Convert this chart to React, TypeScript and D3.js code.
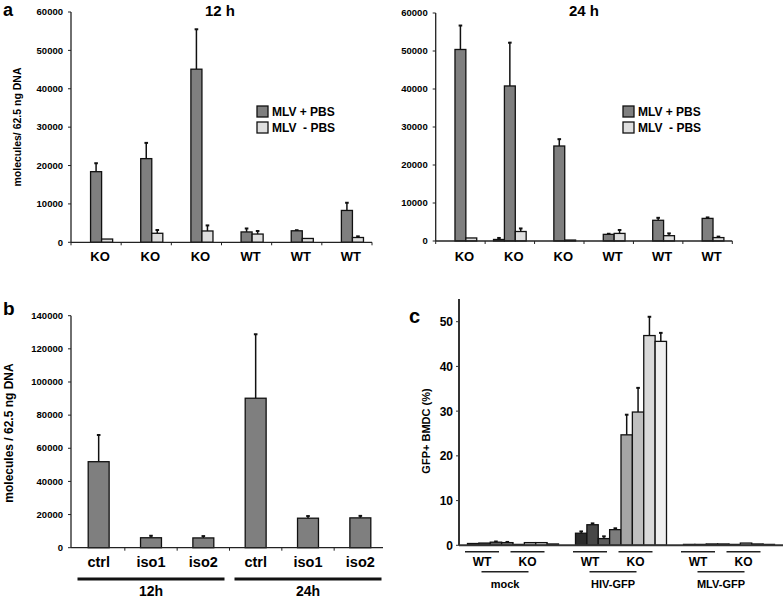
import React from 'react';
import * as d3 from 'd3';

// ---------- Panel a data ----------
const groupsA = ['KO', 'KO', 'KO', 'WT', 'WT', 'WT'];
const seriesA = ['MLV + PBS', 'MLV  - PBS'];
const ticksA = [0, 10000, 20000, 30000, 40000, 50000, 60000];
const a12Base = [0, 0, 0, 0, 0, 0];
const a12BaseErr = [0, 0, 0, 0, 0, 0];
const a12Plus = [18400, 21800, 45100, 2700, 3000, 8300];
const a12PlusErr = [2200, 4100, 10400, 900, 150, 2000];
const a12Minus = [850, 2350, 2950, 2150, 1000, 1250];
const a12MinusErr = [0, 850, 1450, 800, 0, 300];
const a24Base = [0, 400, 0, 0, 0, 0];
const a24BaseErr = [0, 400, 0, 0, 0, 0];
const a24Plus = [50400, 40800, 25000, 1750, 5450, 5950];
const a24PlusErr = [6300, 11400, 1800, 150, 650, 250];
const a24Minus = [800, 2500, 250, 2000, 1400, 900];
const a24MinusErr = [0, 800, 0, 900, 600, 250];

// ---------- Panel b data ----------
const catsB = ['ctrl', 'iso1', 'iso2', 'ctrl', 'iso1', 'iso2'];
const timesB = ['12h', '24h'];
const ticksB = [0, 20000, 40000, 60000, 80000, 100000, 120000, 140000];
const valsB = [51900, 6000, 5900, 90200, 17800, 18000];
const errB = [16100, 1200, 1100, 38600, 1300, 1200];

// ---------- Panel c data ----------
const groupsC = ['mock', 'HIV-GFP', 'MLV-GFP'];
const genoC = ['WT', 'KO'];
const ticksC = [0, 10, 20, 30, 40, 50];
const mockC = [0.4, 0.5, 0.7, 0.6, 0.2, 0.6, 0.6, 0.3];
const mockErrC = [0.1, 0.1, 0.15, 0.15, 0.05, 0.1, 0.1, 0.05];
const hivC = [2.7, 4.6, 1.5, 3.5, 24.7, 29.8, 46.9, 45.6];
const hivErrC = [0.4, 0.3, 0.5, 0.3, 4.5, 5.4, 4.2, 1.9];
const mlvC = [0.2, 0.2, 0.3, 0.3, 0.2, 0.5, 0.3, 0.2];
const mlvErrC = [0.05, 0.05, 0.05, 0.05, 0.05, 0.1, 0.05, 0.05];

const FONT = '"Liberation Sans", Arial, sans-serif';
const DARK = '#7f7f7f';
const LIGHT = '#dedede';
const colorsC = ['#2b2b2b', '#474747', '#5c5c5c', '#7c7c7c', '#a6a6a6', '#bfbfbf', '#d9d9d9', '#efefef'];

function ErrBar({ cx, yTop, yErr }: { cx: number; yTop: number; yErr: number }) {
  if (Math.abs(yTop - yErr) < 0.5) return null;
  return (
    <g stroke="#111" strokeWidth={1.5}>
      <line x1={cx} x2={cx} y1={yTop} y2={yErr} />
      <line x1={cx - 1.8} x2={cx + 1.8} y1={yErr} y2={yErr} strokeWidth={2} />
    </g>
  );
}

function PanelA(props: {
  x0: number; x1: number; y0: number; y1: number; title: string; titleX: number; legendX: number;
  base: number[]; baseErr: number[]; plus: number[]; plusErr: number[]; minus: number[]; minusErr: number[];
}) {
  const { x0, x1, y0, y1 } = props;
  const y = d3.scaleLinear().domain([0, 60000]).range([y0, y1]);
  const idx = groupsA.map((_, i) => String(i));
  const x = d3.scaleBand().domain(idx).range([x0, x1]);
  const bw = x.bandwidth();
  const sub = d3.scaleBand().domain(['base', 'plus', 'minus']).range([bw * 0.17, bw * 0.83]);
  const sw = sub.bandwidth();
  const series = [
    { key: 'base', v: props.base, e: props.baseErr, fill: DARK },
    { key: 'plus', v: props.plus, e: props.plusErr, fill: DARK },
    { key: 'minus', v: props.minus, e: props.minusErr, fill: LIGHT },
  ];
  const boundaries = d3.range(groupsA.length + 1).map((i) => x0 + i * bw);
  return (
    <g>
      <text x={props.titleX} y={16} textAnchor="middle" fontSize={15} fontWeight="bold" fontFamily={FONT}>{props.title}</text>
      {series.map((s) =>
        idx.map((g, i) => {
          const bx = (x(g) as number) + (sub(s.key) as number);
          const top = y(s.v[i]);
          return (
            <g key={s.key + i}>
              <ErrBar cx={bx + sw / 2} yTop={top} yErr={y(s.v[i] + s.e[i])} />
              <rect x={bx} y={top} width={sw} height={Math.max(0, y0 - top)} fill={s.fill} stroke="#111" strokeWidth={1.3} />
            </g>
          );
        })
      )}
      <line x1={x0} x2={x0} y1={y0} y2={y1} stroke="#222" strokeWidth={1.3} />
      <line x1={x0} x2={x1} y1={y0} y2={y0} stroke="#222" strokeWidth={1.3} />
      {ticksA.map((t) => (
        <g key={t}>
          <line x1={x0 - 3} x2={x0} y1={y(t)} y2={y(t)} stroke="#222" strokeWidth={1} />
          <text x={x0 - 8} y={y(t) + 3.2} textAnchor="end" fontSize={9.5} fontWeight="bold" fontFamily={FONT}>{t}</text>
        </g>
      ))}
      {boundaries.map((b, i) => (
        <line key={i} x1={b} x2={b} y1={y0} y2={y0 + 3} stroke="#222" strokeWidth={1} />
      ))}
      {groupsA.map((g, i) => (
        <text key={i} x={(x(String(i)) as number) + bw / 2 + 4} y={261} textAnchor="middle" fontSize={13} fontWeight="bold" fontFamily={FONT}>{g}</text>
      ))}
      {seriesA.map((s, i) => (
        <g key={s}>
          <rect x={props.legendX} y={106 + i * 16} width={11} height={11} fill={i === 0 ? DARK : LIGHT} stroke="#111" strokeWidth={1.3} />
          <text x={props.legendX + 15} y={116 + i * 16} fontSize={12} fontWeight="bold" fontFamily={FONT} style={{ whiteSpace: 'pre' }}>{s}</text>
        </g>
      ))}
    </g>
  );
}

function PanelB() {
  const x0 = 71, x1 = 383, y0 = 547.7, y1 = 315.7;
  const y = d3.scaleLinear().domain([0, 140000]).range([y0, y1]);
  const idx = catsB.map((_, i) => String(i));
  const x = d3.scaleBand().domain(idx).range([72.5, 386.5]);
  const bw = x.bandwidth();
  const barW = bw * 0.4;
  return (
    <g>
      {valsB.map((v, i) => {
        const cx = (x(String(i)) as number) + bw / 2;
        const top = y(v);
        return (
          <g key={i}>
            <ErrBar cx={cx} yTop={top} yErr={y(v + errB[i])} />
            <rect x={cx - barW / 2} y={top} width={barW} height={y0 - top} fill={DARK} stroke="#111" strokeWidth={1.3} />
          </g>
        );
      })}
      <line x1={x0} x2={x0} y1={y0} y2={y1} stroke="#222" strokeWidth={1.3} />
      <line x1={x0} x2={x1} y1={y0} y2={y0} stroke="#222" strokeWidth={1.3} />
      {ticksB.map((t) => (
        <g key={t}>
          <line x1={x0 - 3} x2={x0} y1={y(t)} y2={y(t)} stroke="#222" strokeWidth={1} />
          <text x={x0 - 8} y={y(t) + 3.2} textAnchor="end" fontSize={9.5} fontWeight="bold" fontFamily={FONT}>{t}</text>
        </g>
      ))}
      {d3.range(1, catsB.length).map((i) => (
        <line key={i} x1={72.5 + i * bw} x2={72.5 + i * bw} y1={y0} y2={y0 + 3} stroke="#222" strokeWidth={1} />
      ))}
      {catsB.map((c, i) => (
        <text key={i} x={(x(String(i)) as number) + bw / 2} y={567} textAnchor="middle" fontSize={14.5} fontWeight="bold" fontFamily={FONT}>{c}</text>
      ))}
      {timesB.map((t, k) => {
        const a = (x(String(k * 3)) as number) + 5;
        const b = (x(String(k * 3 + 2)) as number) + bw - 5;
        return (
          <g key={t}>
            <line x1={a} x2={b} y1={579} y2={579} stroke="#111" strokeWidth={3} />
            <text x={(a + b) / 2} y={596} textAnchor="middle" fontSize={14} fontWeight="bold" fontFamily={FONT}>{t}</text>
          </g>
        );
      })}
      <text transform="translate(13,433) rotate(-90)" textAnchor="middle" fontSize={12} fontWeight="bold" fontFamily={FONT}>molecules / 62.5 ng DNA</text>
    </g>
  );
}

function PanelC() {
  const x0 = 459, x1 = 783, y0 = 545.3;
  const y = d3.scaleLinear().domain([0, 50]).range([y0, 321.7]);
  const x = d3.scaleBand().domain(groupsC).range([x0, x1]);
  const bw = x.bandwidth();
  const sub = d3.scaleBand().domain(d3.range(8).map(String)).range([8.5, bw - 8.5]);
  const sw = sub.bandwidth();
  const data = [
    { g: 'mock', v: mockC, e: mockErrC },
    { g: 'HIV-GFP', v: hivC, e: hivErrC },
    { g: 'MLV-GFP', v: mlvC, e: mlvErrC },
  ];
  return (
    <g>
      {data.map((d) =>
        d.v.map((v, i) => {
          const bx = (x(d.g) as number) + (sub(String(i)) as number);
          const top = y(v);
          return (
            <g key={d.g + i}>
              <ErrBar cx={bx + sw / 2} yTop={top} yErr={y(v + d.e[i])} />
              <rect x={bx} y={top} width={sw} height={y0 - top} fill={colorsC[i]} stroke="#111" strokeWidth={1.3} />
            </g>
          );
        })
      )}
      <line x1={x0} x2={x0} y1={y0} y2={299} stroke="#333" strokeWidth={2} />
      <line x1={x0} x2={x1} y1={y0} y2={y0} stroke="#333" strokeWidth={2} />
      {ticksC.map((t) => (
        <g key={t}>
          <line x1={x0 - 3} x2={x0} y1={y(t)} y2={y(t)} stroke="#333" strokeWidth={1} />
          <text x={x0 - 6} y={y(t) + 4.5} textAnchor="end" fontSize={12} fontWeight="bold" fontFamily={FONT}>{t}</text>
        </g>
      ))}
      {groupsC.map((g) => {
        const gx = x(g) as number;
        return (
          <g key={g}>
            {genoC.map((k, j) => {
              const c = gx + (j === 0 ? 23 : 68.5);
              return (
                <g key={k}>
                  <line x1={c - 17} x2={c + 17} y1={551.7} y2={551.7} stroke="#222" strokeWidth={1.5} />
                  <text x={c} y={566} textAnchor="middle" fontSize={12} fontWeight="bold" fontFamily={FONT}>{k}</text>
                </g>
              );
            })}
            <line x1={gx + 22.5} x2={gx + 69.5} y1={571.7} y2={571.7} stroke="#222" strokeWidth={1.5} />
            <text x={gx + 46} y={588} textAnchor="middle" fontSize={11} fontWeight="bold" fontFamily={FONT}>{g}</text>
          </g>
        );
      })}
      <text transform="translate(430,431) rotate(-90)" textAnchor="middle" fontSize={11} fontWeight="bold" fontFamily={FONT}>GFP+ BMDC (%)</text>
    </g>
  );
}

export default function App() {
  return (
    <svg width={784} height={600} style={{ position: 'absolute', left: 0, top: 0, background: '#fff' }}>
      <rect width={784} height={600} fill="#fff" />
      <text x={3} y={16} fontSize={18} fontWeight="bold" fontFamily={FONT}>a</text>
      <text x={3} y={315} fontSize={19} fontWeight="bold" fontFamily={FONT}>b</text>
      <text x={409} y={323} fontSize={20} fontWeight="bold" fontFamily={FONT}>c</text>
      <text transform="translate(21,127) rotate(-90)" textAnchor="middle" fontSize={10.5} fontWeight="bold" fontFamily={FONT}>molecules/ 62.5 ng DNA</text>
      <PanelA x0={71} x1={372} y0={242.3} y1={12} title="12 h" titleX={220} legendX={257}
        base={a12Base} baseErr={a12BaseErr} plus={a12Plus} plusErr={a12PlusErr} minus={a12Minus} minusErr={a12MinusErr} />
      <PanelA x0={435.7} x1={732.3} y0={241} y1={13} title="24 h" titleX={584} legendX={623}
        base={a24Base} baseErr={a24BaseErr} plus={a24Plus} plusErr={a24PlusErr} minus={a24Minus} minusErr={a24MinusErr} />
      <PanelB />
      <PanelC />
    </svg>
  );
}
